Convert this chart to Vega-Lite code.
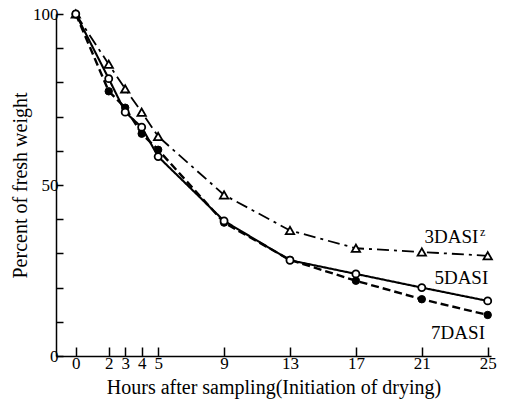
{
  "$schema": "https://vega.github.io/schema/vega-lite/v6.json",
  "autosize": "none",
  "width": 435,
  "height": 342,
  "padding": {"left": 56, "top": 14, "right": 16, "bottom": 51},
  "background": "white",
  "config": {
    "view": {"stroke": null},
    "font": "Liberation Serif"
  },
  "datasets": {
    "series": [
      {"h": 0, "v": 100, "s": "3DASI"},
      {"h": 2, "v": 85.3, "s": "3DASI"},
      {"h": 3, "v": 78.1, "s": "3DASI"},
      {"h": 4, "v": 71.3, "s": "3DASI"},
      {"h": 5, "v": 64.2, "s": "3DASI"},
      {"h": 9, "v": 47.1, "s": "3DASI"},
      {"h": 13, "v": 36.7, "s": "3DASI"},
      {"h": 17, "v": 31.5, "s": "3DASI"},
      {"h": 21, "v": 30.4, "s": "3DASI"},
      {"h": 25, "v": 29.3, "s": "3DASI"},
      {"h": 0, "v": 100, "s": "7DASI"},
      {"h": 2, "v": 77.4, "s": "7DASI"},
      {"h": 3, "v": 72.6, "s": "7DASI"},
      {"h": 4, "v": 65.0, "s": "7DASI"},
      {"h": 5, "v": 60.3, "s": "7DASI"},
      {"h": 9, "v": 39.0, "s": "7DASI"},
      {"h": 13, "v": 28.1, "s": "7DASI"},
      {"h": 17, "v": 22.0, "s": "7DASI"},
      {"h": 21, "v": 16.6, "s": "7DASI"},
      {"h": 25, "v": 12.0, "s": "7DASI"},
      {"h": 0, "v": 100, "s": "5DASI"},
      {"h": 2, "v": 81.1, "s": "5DASI"},
      {"h": 3, "v": 71.3, "s": "5DASI"},
      {"h": 4, "v": 66.9, "s": "5DASI"},
      {"h": 5, "v": 58.3, "s": "5DASI"},
      {"h": 9, "v": 39.5, "s": "5DASI"},
      {"h": 13, "v": 28.0, "s": "5DASI"},
      {"h": 17, "v": 24.0, "s": "5DASI"},
      {"h": 21, "v": 20.0, "s": "5DASI"},
      {"h": 25, "v": 16.1, "s": "5DASI"}
    ],
    "labels": [
      {"h": 22.8, "v": 34.9, "t": "3DASI", "fs": 19},
      {"h": 24.7, "v": 36.4, "t": "z", "fs": 12},
      {"h": 23.4, "v": 22.8, "t": "5DASI", "fs": 19},
      {"h": 23.2, "v": 6.7, "t": "7DASI", "fs": 19}
    ]
  },
  "encoding": {
    "x": {"field": "h", "type": "quantitative", "scale": {"domain": [-1.2, 25.2], "nice": false, "zero": false},
      "axis": {"values": [0, 2, 3, 4, 5, 9, 13, 17, 21, 25], "grid": false, "domainColor": "black", "domainWidth": 1.5, "tickColor": "black", "tickWidth": 1.5, "tickSize": -9, "labelPadding": 8, "labelFont": "Liberation Serif", "labelFontSize": 17, "labelColor": "black", "labelOverlap": false, "labelFlush": false, "title": "Hours after sampling(Initiation of drying)", "titleFont": "Liberation Serif", "titleFontSize": 20, "titleFontWeight": "normal", "titleColor": "black", "titlePadding": 6}},
    "y": {"field": "v", "type": "quantitative", "scale": {"domain": [0, 100], "nice": false, "zero": true},
      "axis": {"values": [0, 10, 20, 30, 40, 50, 60, 70, 80, 90, 100], "labelExpr": "datum.value == 0 || datum.value == 50 || datum.value == 100 ? datum.label : ''", "grid": false, "domainColor": "black", "domainWidth": 1.5, "tickColor": "black", "tickWidth": 1.5, "tickSize": -7, "labelPadding": 5, "labelFont": "Liberation Serif", "labelFontSize": 17, "labelColor": "black", "labelOverlap": false, "labelFlush": false, "title": "Percent of fresh weight", "titleFont": "Liberation Serif", "titleFontSize": 20, "titleFontWeight": "normal", "titleColor": "black", "titlePadding": 2}}
  },
  "layer": [
    {
      "data": {"name": "series"},
      "mark": {"type": "line", "color": "black"},
      "encoding": {
        "strokeDash": {"field": "s", "type": "nominal", "legend": null,
          "scale": {"domain": ["3DASI", "5DASI", "7DASI"], "range": [[12, 5, 3, 5], [1, 0], [8, 4]]}},
        "strokeWidth": {"field": "s", "type": "nominal", "legend": null,
          "scale": {"domain": ["3DASI", "5DASI", "7DASI"], "range": [1.8, 2.4, 2.2]}},
        "detail": {"field": "s"}
      }
    },
    {
      "data": {"name": "series"},
      "transform": [{"filter": "datum.s === '3DASI'"}],
      "mark": {"type": "point", "shape": "triangle-up", "filled": true, "fill": "white", "stroke": "black", "strokeWidth": 1.8, "size": 70, "opacity": 1},
      "encoding": {}
    },
    {
      "data": {"name": "series"},
      "transform": [{"filter": "datum.s === '7DASI'"}],
      "mark": {"type": "point", "shape": "circle", "filled": true, "fill": "black", "stroke": "black", "strokeWidth": 1, "size": 55, "opacity": 1},
      "encoding": {}
    },
    {
      "data": {"name": "series"},
      "transform": [{"filter": "datum.s === '5DASI'"}],
      "mark": {"type": "point", "shape": "circle", "filled": true, "fill": "white", "stroke": "black", "strokeWidth": 1.8, "size": 50, "opacity": 1},
      "encoding": {}
    },
    {
      "data": {"name": "labels"},
      "mark": {"type": "text", "font": "Liberation Serif", "color": "black", "align": "center", "baseline": "middle"},
      "encoding": {
        "text": {"field": "t"},
        "size": {"field": "fs", "type": "quantitative", "scale": null}
      }
    }
  ]
}
